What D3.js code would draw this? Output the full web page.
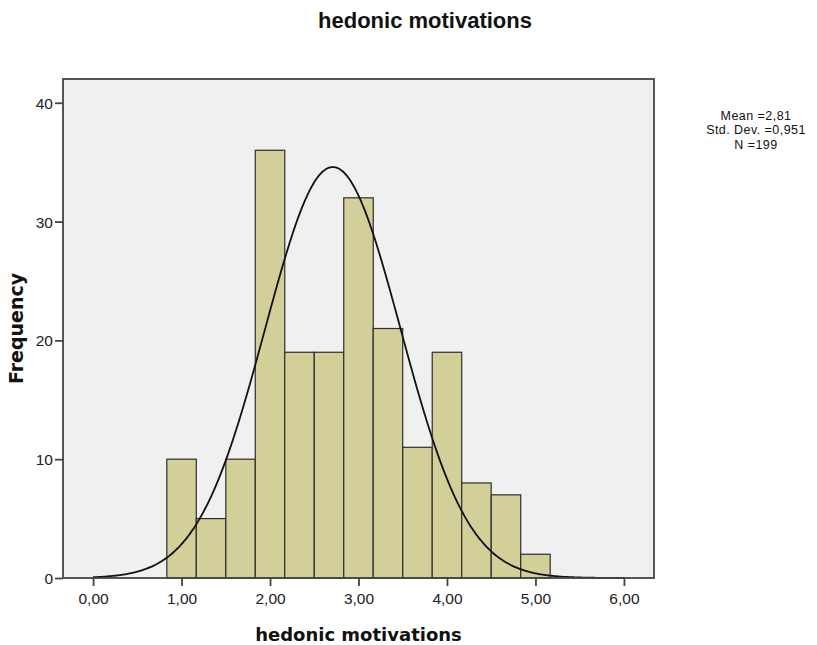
<!DOCTYPE html>
<html>
<head>
<meta charset="utf-8">
<script src="https://cdn.jsdelivr.net/npm/d3@7"></script>
<style>
  html, body { margin: 0; padding: 0; background: #ffffff; }
  svg { display: block; }
</style>
</head>
<body>
<script>
// Histogram of hedonic motivations with a fitted normal curve
const binCenters = [1.0, 1.333, 1.667, 2.0, 2.333, 2.667, 3.0, 3.333, 3.667, 4.0, 4.333, 4.667, 5.0];
const frequencies = [10, 5, 10, 36, 19, 19, 32, 21, 11, 19, 8, 7, 2];
const binWidth = 1 / 3;
const xTicks = [0, 1, 2, 3, 4, 5, 6];
const yTicks = [0, 10, 20, 30, 40];
const statsLines = ["Mean =2,81", "Std. Dev. =0,951", "N =199"];
// parameters of the overlaid normal curve as drawn
const curveMean = 2.71;
const curveSd = 0.765;
const curveN = 199;

const W = 817, H = 645;
const plot = { left: 63, top: 79, right: 654, bottom: 578 };

const svg = d3.select("body").append("svg")
  .attr("width", W).attr("height", H);

const x = d3.scaleLinear().domain([-0.34, 6.34]).range([plot.left, plot.right]);
const y = d3.scaleLinear().domain([0, 42]).range([plot.bottom, plot.top]);

// plot background
svg.append("rect")
  .attr("x", plot.left).attr("y", plot.top)
  .attr("width", plot.right - plot.left).attr("height", plot.bottom - plot.top)
  .attr("fill", "#f0f0f0");

// bars
svg.append("g").selectAll("rect")
  .data(binCenters.map((c, i) => ({ c, f: frequencies[i] })))
  .join("rect")
  .attr("x", d => x(d.c - binWidth / 2))
  .attr("y", d => y(d.f))
  .attr("width", d => x(d.c + binWidth / 2) - x(d.c - binWidth / 2))
  .attr("height", d => y(0) - y(d.f))
  .attr("fill", "#d3cf98")
  .attr("stroke", "#2e2e2e")
  .attr("stroke-width", 1.2);

// normal curve scaled to counts per bin
const normal = v => curveN * binWidth / (curveSd * Math.sqrt(2 * Math.PI)) *
  Math.exp(-0.5 * Math.pow((v - curveMean) / curveSd, 2));
const curvePts = d3.range(0, 6.001, 0.02);
svg.append("path")
  .datum(curvePts)
  .attr("fill", "none")
  .attr("stroke", "#111")
  .attr("stroke-width", 1.8)
  .attr("d", d3.line().x(v => x(v)).y(v => y(normal(v))).curve(d3.curveBasis));

// frame
svg.append("rect")
  .attr("x", plot.left).attr("y", plot.top)
  .attr("width", plot.right - plot.left).attr("height", plot.bottom - plot.top)
  .attr("fill", "none")
  .attr("stroke", "#444")
  .attr("stroke-width", 1.8);

// axes
const fmt = d => d.toFixed(2).replace(".", ",");
const xAxis = svg.append("g")
  .attr("transform", `translate(0,${plot.bottom})`)
  .call(d3.axisBottom(x).tickValues(xTicks).tickFormat(fmt).tickSize(8).tickSizeOuter(0));
const yAxis = svg.append("g")
  .attr("transform", `translate(${plot.left},0)`)
  .call(d3.axisLeft(y).tickValues(yTicks).tickFormat(d3.format("d")).tickSize(8).tickSizeOuter(0));

[xAxis, yAxis].forEach(g => {
  g.select(".domain").remove();
  g.selectAll(".tick line").attr("stroke", "#444").attr("stroke-width", 1.8);
  g.selectAll(".tick text")
    .attr("fill", "#222")
    .style("font-family", "'Liberation Sans', Arial, sans-serif")
    .style("font-size", "15.5px");
});
xAxis.selectAll(".tick text").attr("y", 26).attr("dy", 0);
yAxis.selectAll(".tick text").attr("x", -10).attr("dy", "0.36em");

// titles
svg.append("text")
  .attr("x", 425).attr("y", 28)
  .attr("text-anchor", "middle")
  .style("font-family", "'Liberation Sans', Arial, sans-serif")
  .style("font-weight", "bold")
  .style("font-size", "22px")
  .attr("fill", "#111")
  .text("hedonic motivations");

svg.append("text")
  .attr("x", (plot.left + plot.right) / 2).attr("y", 641)
  .attr("text-anchor", "middle")
  .style("font-family", "'DejaVu Sans', Verdana, sans-serif")
  .style("font-weight", "bold")
  .style("font-size", "18px")
  .attr("fill", "#111")
  .text("hedonic motivations");

svg.append("text")
  .attr("transform", `translate(23,${(plot.top + plot.bottom) / 2}) rotate(-90)`)
  .attr("text-anchor", "middle")
  .style("font-family", "'DejaVu Sans', Verdana, sans-serif")
  .style("font-weight", "bold")
  .style("font-size", "19px")
  .attr("fill", "#111")
  .text("Frequency");

// summary statistics
svg.append("g").selectAll("text")
  .data(statsLines)
  .join("text")
  .attr("x", 756)
  .attr("y", (d, i) => 120 + i * 14.4)
  .attr("text-anchor", "middle")
  .style("font-family", "'Liberation Sans', Arial, sans-serif")
  .style("font-size", "12.5px")
  .style("letter-spacing", "0.45px")
  .attr("fill", "#111")
  .text(d => d);
</script>
</body>
</html>
